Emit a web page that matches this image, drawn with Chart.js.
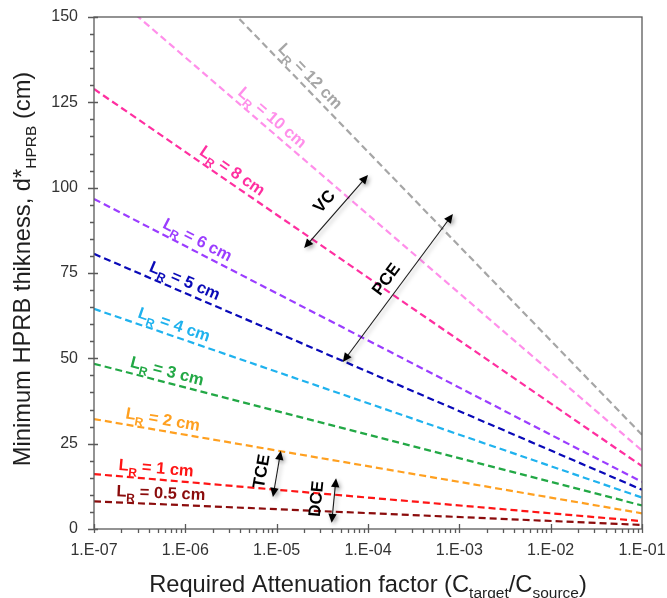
<!DOCTYPE html>
<html>
<head>
<meta charset="utf-8">
<script src="https://cdn.jsdelivr.net/npm/chart.js@4.4.1/dist/chart.umd.min.js"></script>
<style>
  html, body { margin: 0; padding: 0; background: #ffffff; }
  #wrap { width: 667px; height: 598px; position: relative; }
</style>
</head>
<body>
<div id="wrap"><canvas id="c"></canvas></div>
<script>
// Required attenuation factor at the two ends of each line (log axis)
const attenuation = [1e-7, 1e-1];

// Minimum HPRB thickness (cm) at those two attenuation factors, one array per L_R
const lrNames = ['12', '10', '8', '6', '5', '4', '3', '2', '1', '0.5'];
const dLR12  = [193.4, 27.6];
const dLR10  = [161.2, 23.0];
const dLR8   = [128.9, 18.4];
const dLR6   = [96.7, 13.8];
const dLR5   = [80.6, 11.5];
const dLR4   = [64.5, 9.2];
const dLR3   = [48.4, 6.9];
const dLR2   = [32.2, 4.6];
const dLR1   = [16.1, 2.3];
const dLR05  = [8.1, 1.2];
const thicknessSeries = [dLR12, dLR10, dLR8, dLR6, dLR5, dLR4, dLR3, dLR2, dLR1, dLR05];

// Tick values and labels
const xTickValues = [1e-7, 1e-6, 1e-5, 1e-4, 1e-3, 1e-2, 1e-1];
const xTickLabels = ['1.E-07', '1.E-06', '1.E-05', '1.E-04', '1.E-03', '1.E-02', '1.E-01'];
const yTickValues = [0, 25, 50, 75, 100, 125, 150];
const yTickLabels = ['0', '25', '50', '75', '100', '125', '150'];

// Styling
const FONT = "'Liberation Sans', Arial, Helvetica, sans-serif";
const lineColors = ['#a6a6a6', '#ff8fea', '#ff2fa0', '#9b3dff', '#0a0ab8', '#1fb2ee',
                    '#22a845', '#ffa020', '#ff1515', '#8b0c0c'];
// where along the x axis each "L_R = ..." label begins
const labelStart = [9.1e-6, 3.33e-6, 1.28e-6, 5.15e-7, 3.7e-7, 2.81e-7, 2.35e-7, 2.13e-7, 1.82e-7, 1.74e-7];

// Double-headed arrows marking the regimes (in data coordinates)
const regimeArrows = [
  { text: 'VC',  from: [2.0e-5, 82.3], to: [1.0e-4, 103.7], gap: 15 },
  { text: 'PCE', from: [5.3e-5, 48.9], to: [8.5e-4, 92.3],  gap: 14 },
  { text: 'TCE', from: [9.1e-6, 9.4],  to: [1.11e-5, 22.9], gap: 15 },
  { text: 'DCE', from: [4.0e-5, 1.8],  to: [4.47e-5, 14.9], gap: 17 }
];

const datasets = thicknessSeries.map((vals, i) => ({
  label: 'L_R = ' + lrNames[i] + ' cm',
  data: attenuation.map((a, k) => ({ x: a, y: vals[k] })),
  borderColor: lineColors[i],
  backgroundColor: lineColors[i],
  borderWidth: 2.2,
  borderDash: [7, 4],
  pointRadius: 0,
  fill: false,
  tension: 0
}));

function drawArrowHead(ctx, x, y, ang) {
  const len = 9, half = 4.2;
  ctx.beginPath();
  ctx.moveTo(x, y);
  ctx.lineTo(x - len * Math.cos(ang) + half * Math.sin(ang), y - len * Math.sin(ang) - half * Math.cos(ang));
  ctx.lineTo(x - len * Math.cos(ang) - half * Math.sin(ang), y - len * Math.sin(ang) + half * Math.cos(ang));
  ctx.closePath();
  ctx.fill();
}

const overlay = {
  id: 'overlay',
  afterDatasetsDraw(chart) {
    const ctx = chart.ctx, xs = chart.scales.x, ys = chart.scales.y;

    // labels along each line
    thicknessSeries.forEach((vals, i) => {
      const p0 = { x: xs.getPixelForValue(attenuation[0]), y: ys.getPixelForValue(vals[0]) };
      const p1 = { x: xs.getPixelForValue(attenuation[1]), y: ys.getPixelForValue(vals[1]) };
      const ang = Math.atan2(p1.y - p0.y, p1.x - p0.x);
      const px = xs.getPixelForValue(labelStart[i]);
      const t = (px - p0.x) / (p1.x - p0.x);
      const py = p0.y + t * (p1.y - p0.y);
      ctx.save();
      ctx.translate(px, py);
      ctx.rotate(ang);
      ctx.translate(0, -6);
      ctx.fillStyle = lineColors[i];
      ctx.textAlign = 'left';
      ctx.textBaseline = 'alphabetic';
      ctx.font = 'bold 16.5px ' + FONT;
      ctx.fillText('L', 0, 0);
      let w = ctx.measureText('L').width;
      ctx.font = 'bold 12px ' + FONT;
      ctx.fillText('R', w, 5);
      w += ctx.measureText('R').width;
      ctx.font = 'bold 16.5px ' + FONT;
      ctx.fillText(' = ' + lrNames[i] + ' cm', w, 0);
      ctx.restore();
    });

    // regime arrows
    regimeArrows.forEach(a => {
      const x0 = xs.getPixelForValue(a.from[0]), y0 = ys.getPixelForValue(a.from[1]);
      const x1 = xs.getPixelForValue(a.to[0]),   y1 = ys.getPixelForValue(a.to[1]);
      const ang = Math.atan2(y1 - y0, x1 - x0);
      ctx.save();
      ctx.shadowColor = 'rgba(0,0,0,0.35)';
      ctx.shadowBlur = 4;
      ctx.shadowOffsetX = 2;
      ctx.shadowOffsetY = 2;
      ctx.strokeStyle = '#1a1a1a';
      ctx.fillStyle = '#000000';
      ctx.lineWidth = 1.1;
      ctx.beginPath();
      ctx.moveTo(x0 + 6 * Math.cos(ang), y0 + 6 * Math.sin(ang));
      ctx.lineTo(x1 - 6 * Math.cos(ang), y1 - 6 * Math.sin(ang));
      ctx.stroke();
      drawArrowHead(ctx, x1, y1, ang);
      drawArrowHead(ctx, x0, y0, ang + Math.PI);
      ctx.restore();

      ctx.save();
      ctx.translate((x0 + x1) / 2, (y0 + y1) / 2);
      ctx.rotate(ang);
      ctx.fillStyle = '#000000';
      ctx.font = 'bold 17px ' + FONT;
      ctx.textAlign = 'center';
      ctx.textBaseline = 'middle';
      ctx.fillText(a.text, 0, -a.gap);
      ctx.restore();
    });
  },
  afterDraw(chart) {
    const ctx = chart.ctx, xs = chart.scales.x, ys = chart.scales.y;
    const { left, right, top, bottom } = chart.chartArea;
    ctx.save();
    ctx.strokeStyle = '#595959';
    ctx.lineWidth = 1.3;
    ctx.strokeRect(left, top, right - left, bottom - top);

    // y ticks: majors cross the axis, minors outside
    ctx.beginPath();
    for (let v = 0; v <= 150; v += 5) {
      const y = Math.round(ys.getPixelForValue(v)) + 0.5;
      const major = yTickValues.includes(v);
      ctx.moveTo(left - (major ? 6 : 4), y);
      ctx.lineTo(left + (major ? 4 : 0), y);
    }
    // x ticks: decades cross the axis, sub-decades below
    for (let e = -7; e <= -1; e++) {
      for (let k = 1; k <= 9; k++) {
        if (e === -1 && k > 1) break;
        const v = k * Math.pow(10, e);
        const x = Math.round(xs.getPixelForValue(v)) + 0.5;
        ctx.moveTo(x, bottom + 4);
        ctx.lineTo(x, bottom - (k === 1 ? 5 : 0));
      }
    }
    ctx.stroke();

    // tick labels
    ctx.fillStyle = '#333333';
    ctx.font = '16px ' + FONT;
    ctx.textAlign = 'right';
    ctx.textBaseline = 'middle';
    yTickValues.forEach((v, i) => ctx.fillText(yTickLabels[i], left - 16, ys.getPixelForValue(v)));
    ctx.textAlign = 'center';
    ctx.textBaseline = 'alphabetic';
    xTickValues.forEach((v, i) => ctx.fillText(xTickLabels[i], xs.getPixelForValue(v), bottom + 26));

    // axis titles with subscripts
    ctx.fillStyle = '#1f1f1f';
    const big = '23.7px ' + FONT, small = '15.5px ' + FONT;
    function runs(parts) {
      let w = 0;
      parts.forEach(p => { ctx.font = p[1] ? small : big; p.w = ctx.measureText(p[0]).width; w += p.w; });
      return w;
    }
    function draw(parts, start) {
      let x = start;
      parts.forEach(p => { ctx.font = p[1] ? small : big; ctx.fillText(p[0], x, p[1] ? 6 : 0); x += p.w; });
    }
    ctx.textAlign = 'left';
    const xt = [['Required Attenuation factor (C', 0], ['target', 1], ['/C', 0], ['source', 1], [')', 0]];
    const xw = runs(xt);
    ctx.save();
    ctx.translate((left + right) / 2, 592);
    draw(xt, -xw / 2);
    ctx.restore();

    const yt = [['Minimum HPRB thikness, d*', 0], ['HPRB', 1], [' (cm)', 0]];
    const yw = runs(yt);
    ctx.save();
    ctx.translate(30, (top + bottom) / 2 - 4);
    ctx.rotate(-Math.PI / 2);
    draw(yt, -yw / 2);
    ctx.restore();
    ctx.restore();
  }
};

new Chart(document.getElementById('c'), {
  type: 'line',
  data: { datasets },
  options: {
    responsive: true,
    maintainAspectRatio: false,
    animation: false,
    layout: { padding: { top: 17, right: 25, left: 0, bottom: 0 } },
    plugins: { legend: { display: false }, tooltip: { enabled: false } },
    scales: {
      x: {
        type: 'logarithmic', min: 1e-7, max: 1e-1,
        border: { display: false },
        grid: { display: false, drawTicks: false },
        ticks: { display: false },
        afterBuildTicks(s) { s.ticks = xTickValues.map(v => ({ value: v })); },
        afterFit(s) { s.height = 69; }
      },
      y: {
        min: 0, max: 150,
        border: { display: false },
        grid: { display: false, drawTicks: false },
        ticks: { display: false },
        afterBuildTicks(s) { s.ticks = yTickValues.map(v => ({ value: v })); },
        afterFit(s) { s.width = 94; }
      }
    }
  },
  plugins: [overlay]
});
</script>
</body>
</html>
